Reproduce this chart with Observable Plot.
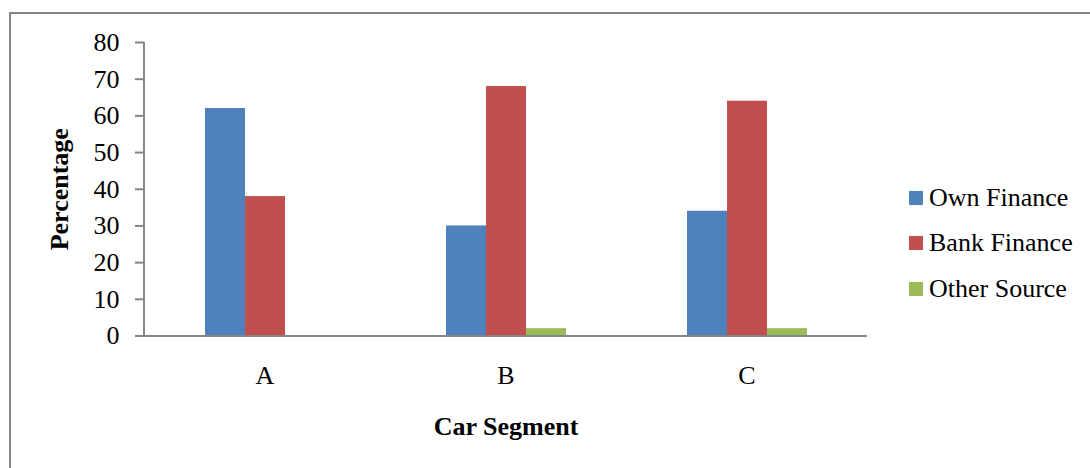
<!DOCTYPE html>
<html>
<head>
<meta charset="utf-8">
<script src="https://cdn.jsdelivr.net/npm/d3@7"></script>
<script src="https://cdn.jsdelivr.net/npm/@observablehq/plot@0.6"></script>
<style>
  html, body { margin: 0; padding: 0; background: #fff; }
  #wrap { position: relative; width: 1090px; height: 468px; overflow: hidden; font-family: "Liberation Serif", "Times New Roman", serif; }
  #frame { position: absolute; left: 9px; top: 12px; width: 1200px; height: 600px; border-top: 2px solid #858585; border-left: 2px solid #858585; pointer-events: none; }
  #chart { position: absolute; left: 0; top: 0; }
  #chart g[aria-label$="axis label"] { font-weight: bold; }
  #legend { position: absolute; left: 909px; top: 175px; }
  .row { display: flex; align-items: center; height: 45.6px; }
  .sw { width: 14px; height: 14px; margin-right: 6px; }
  .lab { font-size: 26px; color: #000; white-space: nowrap; }
</style>
</head>
<body>
<div id="wrap">
  <div id="chart"></div>
  <div id="frame"></div>
  <div id="legend"></div>
</div>
<script>
// Car segments on the x axis
const segments = ["A", "B", "C"];
// Financing sources (one bar per source in each segment)
const series = ["Own Finance", "Bank Finance", "Other Source"];
// Percentage of buyers per segment
const ownFinance = [62, 30, 34];
const bankFinance = [38, 68, 64];
const otherSource = [0, 2, 2];
const yTicks = [0, 10, 20, 30, 40, 50, 60, 70, 80];
const colors = ["#4F81BD", "#C0504D", "#9BBB59"];

const valuesBySeries = [ownFinance, bankFinance, otherSource];
const data = segments.flatMap((segment, i) =>
  series.map((s, j) => ({segment, series: s, value: valuesBySeries[j][i]}))
);

const marginLeft = 144;
const axisGray = "#868686";

const chart = Plot.plot({
  width: 1090,
  height: 468,
  marginLeft,
  marginRight: 223,
  marginTop: 42,
  marginBottom: 132.5,
  style: {
    fontFamily: "'Liberation Serif', 'Times New Roman', serif",
    color: "#000",
    background: "transparent",
    overflow: "visible"
  },
  fx: {domain: segments, padding: 0},
  x: {domain: series, paddingInner: 0, paddingOuter: 1.5, axis: null},
  y: {domain: [0, 80], axis: null},
  color: {domain: series, range: colors},
  marks: [
    Plot.barY(data, {fx: "segment", x: "series", y: "value", fill: "series"}),
    Plot.ruleY([0], {stroke: axisGray, strokeWidth: 2}),
    Plot.axisY({
      ticks: yTicks,
      tickSize: 9,
      tickPadding: 16,
      fontSize: 26,
      stroke: axisGray,
      strokeWidth: 2,
      label: "Percentage",
      labelAnchor: "center",
      labelOffset: 95,
      labelArrow: "none"
    }),
    Plot.axisFx({
      anchor: "bottom",
      tickSize: 0,
      tickPadding: 30,
      fontSize: 26,
      label: "Car Segment",
      labelAnchor: "center",
      labelOffset: 99,
      labelArrow: "none"
    })
  ]
});

// vertical axis line along the left edge of the plot area
const y = chart.scale("y");
d3.select(chart).append("line")
  .attr("x1", marginLeft).attr("x2", marginLeft)
  .attr("y1", y.apply(80)).attr("y2", y.apply(0) + 1)
  .attr("stroke", axisGray).attr("stroke-width", 2);

document.getElementById("chart").appendChild(chart);

// legend: one swatch per financing source
const legend = d3.select("#legend");
series.forEach((s, i) => {
  const row = legend.append("div").attr("class", "row");
  row.append("div").attr("class", "sw").style("background", colors[i]);
  row.append("span").attr("class", "lab").text(s);
});
</script>
</body>
</html>
